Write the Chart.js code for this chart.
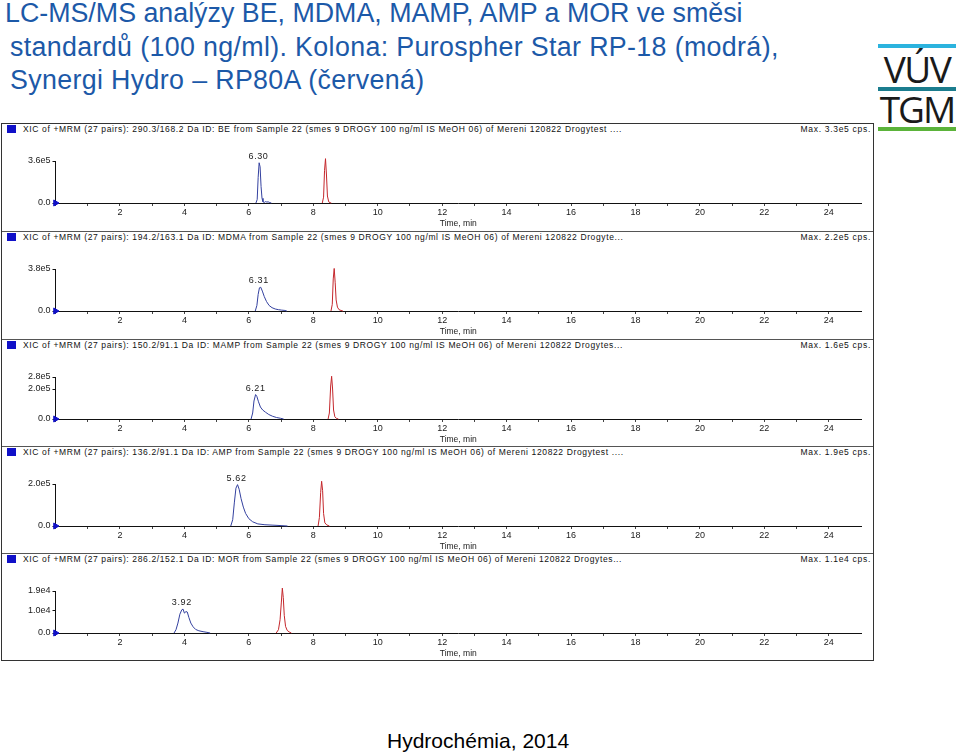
<!DOCTYPE html>
<html>
<head>
<meta charset="utf-8">
<script src="https://cdn.jsdelivr.net/npm/chart.js@4.4.0/dist/chart.umd.min.js"></script>
<style>
  body { margin: 0; background: #fff; width: 960px; height: 753px; position: relative; overflow: hidden; font-family: "Liberation Sans", Arial, sans-serif; }
  #title { position: absolute; left: 5px; top: -3px; font-size: 26.8px; line-height: 33.5px; color: #1c59a8; white-space: nowrap; }
  #title .l2 { display: inline-block; margin-left: 5px; letter-spacing: 0.35px; }
  #logo { position: absolute; left: 878px; top: 44px; width: 78px; }
  .bar { height: 4px; }
  .logotxt { font-family: "Open Sans", sans-serif; font-size: 37px; color: #1a1a1a; text-align: center; letter-spacing: -1.5px; overflow: hidden; }
  #box { position: absolute; left: 1px; top: 123px; width: 871px; height: 536px; border: 1px solid #333; }
  .panel { position: absolute; left: 0; width: 871px; height: 107px; border-top: 1px solid #555; }
  .panel:first-child { border-top: none; }
  .hdr { position: absolute; left: 0; top: 0; width: 871px; height: 11px; font-size: 8.5px; line-height: 11px; color: #111; white-space: nowrap; }
  .sq { position: absolute; left: 5px; top: 1px; width: 9px; height: 8px; background: #1010c8; }
  .hdr .txt { position: absolute; left: 21px; letter-spacing: 0.63px; }
  .hdr .mx { position: absolute; right: 2px; letter-spacing: 0.7px; }
  canvas { position: absolute; left: 0; top: 13px; }
  #foot { position: absolute; left: 387px; top: 729px; font-size: 21px; color: #000; }
</style>
</head>
<body>
<div id="title">LC-MS/MS analýzy BE, MDMA, MAMP, AMP a MOR ve směsi<br><span class="l2">standardů (100 ng/ml). Kolona: Purospher Star RP-18 (modrá),</span><br><span class="l2">Synergi Hydro – RP80A (červená)</span></div>
<div id="logo">
  <div class="bar" style="background:#2bb3de"></div>
  <div class="logotxt" style="height:39px;line-height:42px">VÚV</div>
  <div class="bar" style="background:#1b7d8e"></div>
  <div class="logotxt" style="height:36px;line-height:36px;letter-spacing:-2px">TGM</div>
  <div class="bar" style="background:#5bb33a"></div>
</div>
<div id="box"></div>
<div id="foot">Hydrochémia, 2014</div>
<script>
// analytes and header texts
const analytes = ["BE", "MDMA", "MAMP", "AMP", "MOR"];
const transitions = ["290.3/168.2", "194.2/163.1", "150.2/91.1", "136.2/91.1", "286.2/152.1"];
const fileTails = ["Drogytest ....", "Drogyte...", "Drogytes...", "Drogytest ....", "Drogytes..."];
const maxCps = ["Max. 3.3e5 cps.", "Max. 2.2e5 cps.", "Max. 1.6e5 cps.", "Max. 1.9e5 cps.", "Max. 1.1e4 cps."];
const rtLabels = ["6.30", "6.31", "6.21", "5.62", "3.92"];

// y axis ticks per panel
const yTickValues = [[0, 3.6e5], [0, 3.8e5], [0, 2.0e5, 2.8e5], [0, 2.0e5], [0, 1.0e4, 1.9e4]];
const yTickLabels = [["0.0", "3.6e5"], ["0.0", "3.8e5"], ["0.0", "2.0e5", "2.8e5"], ["0.0", "2.0e5"], ["0.0", "1.0e4", "1.9e4"]];

// x axis
const xMin = 0, xMax = 25;
const xLabelEvery = 2;

// BE
const beBlueTime = [6.22, 6.26, 6.29, 6.32, 6.35, 6.38, 6.41, 6.44, 6.48, 6.52, 6.56, 6.60, 6.65, 6.70];
const beBlueInt  = [0, 0.3e5, 2.2e5, 3.45e5, 3.1e5, 1.4e5, 0.4e5, 0.1e5, 0.05e5, 0.12e5, 0.08e5, 0.1e5, 0.04e5, 0];
const beRedTime  = [8.28, 8.32, 8.35, 8.38, 8.41, 8.44, 8.48, 8.52, 8.56];
const beRedInt   = [0, 0.5e5, 2.8e5, 3.8e5, 2.4e5, 0.6e5, 0.1e5, 0.03e5, 0];

// MDMA
const mdmaBlueTime = [6.20, 6.25, 6.29, 6.33, 6.37, 6.42, 6.48, 6.55, 6.63, 6.72, 6.82, 6.92, 7.02, 7.12, 7.18];
const mdmaBlueInt  = [0, 0.5e5, 1.5e5, 2.1e5, 2.15e5, 1.8e5, 1.3e5, 0.85e5, 0.5e5, 0.3e5, 0.18e5, 0.12e5, 0.08e5, 0.05e5, 0];
const mdmaRedTime  = [8.55, 8.59, 8.62, 8.65, 8.68, 8.71, 8.75, 8.80, 8.86, 8.92];
const mdmaRedInt   = [0, 0.6e5, 2.9e5, 3.85e5, 2.6e5, 1.0e5, 0.35e5, 0.12e5, 0.05e5, 0];

// MAMP
const mampBlueTime = [6.07, 6.12, 6.16, 6.21, 6.25, 6.30, 6.36, 6.43, 6.52, 6.62, 6.74, 6.86, 6.98, 7.08];
const mampBlueInt  = [0, 0.4e5, 1.2e5, 1.63e5, 1.5e5, 1.15e5, 0.8e5, 0.6e5, 0.45e5, 0.3e5, 0.18e5, 0.1e5, 0.05e5, 0];
const mampRedTime  = [8.46, 8.50, 8.54, 8.57, 8.60, 8.63, 8.67, 8.72, 8.78];
const mampRedInt   = [0, 0.4e5, 2.2e5, 2.85e5, 2.0e5, 0.6e5, 0.15e5, 0.04e5, 0];

// AMP
const ampBlueTime = [5.44, 5.50, 5.55, 5.60, 5.65, 5.70, 5.76, 5.83, 5.90, 6.00, 6.12, 6.28, 6.50, 6.75, 7.00, 7.20];
const ampBlueInt  = [0, 0.3e5, 1.1e5, 1.8e5, 1.97e5, 1.75e5, 1.3e5, 0.9e5, 0.6e5, 0.35e5, 0.2e5, 0.1e5, 0.06e5, 0.04e5, 0.02e5, 0];
const ampRedTime  = [8.15, 8.19, 8.23, 8.26, 8.29, 8.32, 8.36, 8.42, 8.50];
const ampRedInt   = [0, 0.4e5, 1.6e5, 2.13e5, 1.7e5, 0.6e5, 0.15e5, 0.05e5, 0];

// MOR
const morBlueTime = [3.68, 3.74, 3.80, 3.86, 3.92, 3.96, 4.00, 4.05, 4.09, 4.14, 4.20, 4.27, 4.35, 4.45, 4.58, 4.70, 4.80];
const morBlueInt  = [0, 0.15e4, 0.45e4, 0.85e4, 1.05e4, 1.08e4, 0.9e4, 0.97e4, 0.95e4, 0.7e4, 0.45e4, 0.28e4, 0.16e4, 0.1e4, 0.06e4, 0.03e4, 0];
const morRedTime  = [6.85, 6.92, 6.97, 7.01, 7.04, 7.07, 7.10, 7.14, 7.19, 7.25, 7.32];
const morRedInt   = [0, 0.15e4, 0.6e4, 1.4e4, 2.03e4, 1.6e4, 0.8e4, 0.3e4, 0.12e4, 0.05e4, 0];

const blueTimes = [beBlueTime, mdmaBlueTime, mampBlueTime, ampBlueTime, morBlueTime];
const blueInts  = [beBlueInt, mdmaBlueInt, mampBlueInt, ampBlueInt, morBlueInt];
const redTimes  = [beRedTime, mdmaRedTime, mampRedTime, ampRedTime, morRedTime];
const redInts   = [beRedInt, mdmaRedInt, mampRedInt, ampRedInt, morRedInt];

const BLUE = "#33409f";
const RED = "#c4262b";
const TXT = "#1a1a1a";
const FONT = "'Liberation Sans', Arial, sans-serif";

const toPts = (ts, vs) => ts.map((t, i) => ({ x: t, y: vs[i] }));

// draws the retention time above the blue peak
const rtLabelPlugin = {
  id: "rtLabel",
  afterDatasetsDraw(chart, args, opts) {
    const { ctx, scales } = chart;
    const px = scales.x.getPixelForValue(parseFloat(opts.text));
    const py = scales.y.getPixelForValue(opts.peak);
    ctx.save();
    ctx.font = "9px " + FONT;
    ctx.fillStyle = TXT;
    ctx.textAlign = "center";
    ctx.textBaseline = "bottom";
    ctx.letterSpacing = "0.6px";
    ctx.fillText(opts.text, px, py - 2);
    ctx.restore();
  },
};

const box = document.getElementById("box");

analytes.forEach((name, i) => {
  const panel = document.createElement("div");
  panel.className = "panel";
  panel.style.top = (i * 107.3).toFixed(1) + "px";
  panel.innerHTML =
    '<div class="hdr"><div class="sq"></div><span class="txt">XIC of +MRM (27 pairs): ' + transitions[i] +
    " Da ID: " + name + " from Sample 22 (smes 9 DROGY 100 ng/ml IS MeOH 06) of Mereni 120822 " + fileTails[i] +
    '</span><span class="mx">' + maxCps[i] + "</span></div>";
  const cv = document.createElement("canvas");
  cv.width = 871;
  cv.height = 93;
  panel.appendChild(cv);
  box.appendChild(panel);

  const ticks = yTickValues[i];
  const labels = yTickLabels[i];

  new Chart(cv, {
    type: "line",
    data: {
      datasets: [
        {
          label: "Purospher Star RP-18",
          data: toPts(blueTimes[i], blueInts[i]),
          borderColor: BLUE,
          borderWidth: 1,
          pointRadius: 0,
          tension: 0,
          clip: false,
        },
        {
          label: "Synergi Hydro RP80A",
          data: toPts(redTimes[i], redInts[i]),
          borderColor: RED,
          borderWidth: 1,
          pointRadius: 0,
          tension: 0,
          clip: false,
        },
        {
          label: "start",
          data: [{ x: 0, y: 0 }],
          showLine: false,
          pointStyle: "triangle",
          rotation: 90,
          pointRadius: 3.5,
          backgroundColor: "#1010c8",
          borderColor: "#1010c8",
          clip: false,
        },
      ],
    },
    options: {
      responsive: false,
      animation: false,
      events: [],
      layout: { padding: { top: 24, right: 12, left: 0, bottom: 0 } },
      plugins: {
        legend: { display: false },
        tooltip: { enabled: false },
        rtLabel: { text: rtLabels[i], peak: Math.max(...blueInts[i]) },
      },
      scales: {
        x: {
          type: "linear",
          min: xMin,
          max: xMax,
          afterFit: (s) => { s.height = 27; },
          afterBuildTicks: (s) => {
            const arr = [];
            for (let v = xMin; v <= xMax - 1; v++) arr.push({ value: v });
            s.ticks = arr;
          },
          ticks: {
            autoSkip: false,
            maxRotation: 0,
            padding: 1,
            color: TXT,
            font: { family: FONT, size: 9 },
            callback: (v) => (v > 0 && v % xLabelEvery === 0 ? String(v) : ""),
          },
          grid: { drawOnChartArea: false, tickLength: 3, color: "#444" },
          border: { color: "#111", width: 1 },
          title: {
            display: true,
            text: "Time, min",
            color: TXT,
            font: { family: FONT, size: 8.5 },
            padding: { top: 0, bottom: 1 },
          },
        },
        y: {
          min: 0,
          max: ticks[ticks.length - 1],
          afterFit: (s) => { s.width = 53.5; },
          afterBuildTicks: (s) => { s.ticks = ticks.map((v) => ({ value: v })); },
          ticks: {
            padding: 2,
            color: TXT,
            font: { family: FONT, size: 9 },
            callback: (v, idx) => labels[idx],
          },
          grid: { drawOnChartArea: false, tickLength: 3, color: "#111" },
          border: { color: "#111", width: 1 },
        },
      },
    },
    plugins: [rtLabelPlugin],
  });
});
</script>
</body>
</html>
